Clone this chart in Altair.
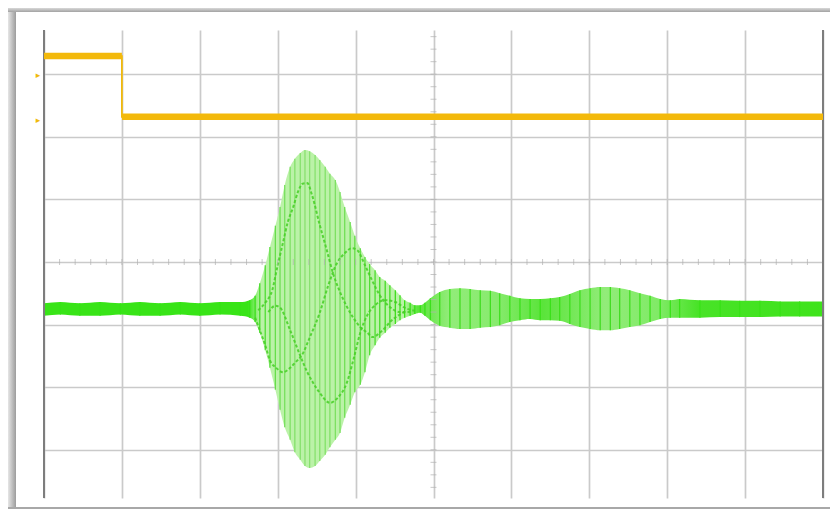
import altair as alt
import pandas as pd

# ---- Channel 2 (green) envelope, time in divisions, amplitude in divisions ----
t_env = [0.00, 0.21, 0.46, 0.72, 0.98, 1.23, 1.49, 1.75, 2.00, 2.26, 2.52, 2.64,
         2.71, 2.77, 2.84, 2.90, 2.97, 3.03, 3.09, 3.16, 3.22, 3.29, 3.35, 3.41,
         3.48, 3.54, 3.61, 3.67, 3.74, 3.80, 3.86, 3.93, 3.99, 4.06, 4.12, 4.18,
         4.25, 4.31, 4.38, 4.44, 4.51, 4.57, 4.63, 4.70, 4.76, 4.83, 4.89, 4.96,
         5.08, 5.21, 5.34, 5.47, 5.60, 5.73, 5.85, 5.98, 6.11, 6.24, 6.37, 6.50,
         6.62, 6.75, 6.88, 7.01, 7.14, 7.27, 7.39, 7.52, 7.65, 7.78, 7.91, 8.04,
         8.16, 8.42, 8.68, 8.93, 9.19, 9.45, 9.70, 10.00]
env_hi = [-0.66, -0.64, -0.66, -0.64, -0.66, -0.64, -0.66, -0.64, -0.66, -0.64, -0.64, -0.61,
          -0.54, -0.34, -0.05, 0.24, 0.58, 0.88, 1.23, 1.52, 1.65, 1.74, 1.79, 1.77,
          1.71, 1.63, 1.52, 1.41, 1.31, 1.12, 0.88, 0.64, 0.42, 0.22, 0.08, -0.03,
          -0.13, -0.24, -0.30, -0.37, -0.45, -0.53, -0.61, -0.65, -0.69, -0.69, -0.65, -0.58,
          -0.48, -0.43, -0.42, -0.43, -0.45, -0.46, -0.50, -0.54, -0.58, -0.59, -0.59, -0.58,
          -0.56, -0.51, -0.45, -0.42, -0.40, -0.40, -0.42, -0.45, -0.50, -0.54, -0.59, -0.61,
          -0.59, -0.61, -0.61, -0.62, -0.62, -0.63, -0.63, -0.63]
env_lo = [-0.86, -0.84, -0.86, -0.86, -0.84, -0.86, -0.86, -0.84, -0.86, -0.84, -0.86, -0.89,
          -0.96, -1.13, -1.41, -1.69, -2.04, -2.36, -2.64, -2.84, -3.04, -3.16, -3.26, -3.29,
          -3.26, -3.18, -3.08, -2.96, -2.84, -2.73, -2.49, -2.28, -2.08, -1.96, -1.76, -1.49,
          -1.33, -1.21, -1.13, -1.05, -0.99, -0.93, -0.89, -0.86, -0.83, -0.81, -0.86, -0.93,
          -1.02, -1.05, -1.07, -1.07, -1.05, -1.04, -1.01, -0.96, -0.93, -0.91, -0.93, -0.93,
          -0.94, -0.99, -1.04, -1.07, -1.09, -1.09, -1.07, -1.04, -1.01, -0.96, -0.91, -0.89,
          -0.89, -0.89, -0.88, -0.88, -0.88, -0.87, -0.87, -0.87]

# ---- aliasing curves visible inside the burst ----
c1_t = [2.75, 2.84, 2.93, 3.00, 3.07, 3.13, 3.20, 3.26, 3.32, 3.38, 3.44, 3.54, 3.63,
        3.71, 3.80, 3.89, 3.97, 4.06, 4.15, 4.22, 4.31, 4.38, 4.44, 4.54, 4.63]
c1_v = [-0.77, -0.65, -0.45, -0.05, 0.32, 0.64, 0.88, 1.12, 1.25, 1.26, 1.07, 0.59, 0.19,
        -0.18, -0.48, -0.72, -0.89, -1.04, -1.13, -1.20, -1.13, -1.05, -0.96, -0.86, -0.80]
c2_t = [2.71, 2.77, 2.84, 2.90, 2.98, 3.07, 3.16, 3.23, 3.31, 3.41, 3.54, 3.65, 3.76,
        3.86, 3.95, 4.02, 4.12, 4.21, 4.31, 4.44, 4.57, 4.70]
c2_v = [-0.89, -1.09, -1.33, -1.57, -1.69, -1.76, -1.69, -1.60, -1.49, -1.21, -0.81, -0.37, -0.02,
        0.14, 0.22, 0.19, -0.05, -0.29, -0.53, -0.72, -0.80, -0.80]
c3_t = [2.88, 2.97, 3.03, 3.16, 3.29, 3.38, 3.45, 3.54, 3.67, 3.77, 3.89, 3.97, 4.06,
        4.15, 4.25, 4.38, 4.51, 4.63, 4.76]
c3_v = [-0.80, -0.70, -0.73, -1.09, -1.50, -1.76, -1.92, -2.09, -2.25, -2.17, -1.92, -1.57, -1.13,
        -0.85, -0.69, -0.61, -0.64, -0.73, -0.78]

# ---- Channel 1 (yellow) step ----
ch1_start = [0.0, 1.0]
ch1_end = [1.0, 10.0]
ch1_level = [3.29, 2.32]
ch1_edge_t = [0.0, 1.0, 1.0, 10.0]
ch1_edge_v = [3.29, 3.29, 2.32, 2.32]

# ---- channel markers on the left ----
marker_v = [2.99, 2.27]
marker_txt = ["\u25b8", "\u25b8"]

# graticule
x_div = list(range(11))
y_div = list(range(-3, 4))
minor_x = [i * 0.2 for i in range(51)]
minor_y = [-3.6 + i * 0.2 for i in range(37)]

W, H = 779, 468
xs = alt.Scale(domain=[0, 10], nice=False, zero=False)
ys = alt.Scale(domain=[-3.77, 3.706], nice=False, zero=False)

env = pd.DataFrame({"t": t_env, "hi": env_hi, "lo": env_lo})
curves = pd.concat([
    pd.DataFrame({"t": c1_t, "v": c1_v, "c": "a"}),
    pd.DataFrame({"t": c2_t, "v": c2_v, "c": "b"}),
    pd.DataFrame({"t": c3_t, "v": c3_v, "c": "c"}),
])
ch1_seg = pd.DataFrame({"t0": ch1_start, "t1": ch1_end, "v": ch1_level})
ch1_line = pd.DataFrame({"t": ch1_edge_t, "v": ch1_edge_v})
mark_df = pd.DataFrame({"v": marker_v, "s": marker_txt})
one = pd.DataFrame({"a": [0]})

xax = alt.Axis(values=x_div, grid=True, gridColor="#cacaca", gridWidth=1.7,
               labels=False, ticks=False, domain=False, title=None)
yax = alt.Axis(values=y_div, grid=True, gridColor="#cacaca", gridWidth=1.7,
               labels=False, ticks=False, domain=False, title=None)

X = lambda f: alt.X(f, scale=xs, axis=xax)
Y = lambda f: alt.Y(f, scale=ys, axis=yax)

stops = [
    alt.GradientStop(offset=0.0, color="#38e417"),
    alt.GradientStop(offset=0.262, color="#38e417"),
    alt.GradientStop(offset=0.278, color="#bbf2a8"),
    alt.GradientStop(offset=0.462, color="#bbf2a8"),
    alt.GradientStop(offset=0.48, color="#5ae43a"),
    alt.GradientStop(offset=0.52, color="#92ec79"),
    alt.GradientStop(offset=0.58, color="#88eb6e"),
    alt.GradientStop(offset=0.64, color="#5ae43a"),
    alt.GradientStop(offset=0.72, color="#92ec79"),
    alt.GradientStop(offset=0.79, color="#80ea66"),
    alt.GradientStop(offset=0.84, color="#48e327"),
    alt.GradientStop(offset=1.0, color="#3ee31b"),
]

area = alt.Chart(env).mark_area(
    color=alt.Gradient(gradient="linear", stops=stops, x1=0, x2=1, y1=0, y2=0),
    interpolate="monotone",
).encode(x=X("t:Q"), y=Y("hi:Q"), y2="lo:Q")

rules = alt.Chart(env).transform_calculate(amp="datum.hi - datum.lo").mark_rule(
    strokeWidth=1.3
).encode(
    x=X("t:Q"), y=Y("hi:Q"), y2="lo:Q",
    color=alt.Color("amp:Q", scale=alt.Scale(domain=[0.2, 0.7, 5],
                                            range=["#36e315", "#42dc22", "#88e16f"]),
                    legend=None),
)

inner = alt.Chart(curves).mark_line(
    strokeDash=[3, 2], strokeWidth=2, color="#45cf24", opacity=0.85, interpolate="monotone"
).encode(x=X("t:Q"), y=Y("v:Q"), detail="c:N")

tick_x = alt.Chart(pd.DataFrame({"t": minor_x})).mark_tick(
    orient="vertical", size=6, thickness=1, color="#b0b0b0"
).encode(x=X("t:Q"), y=alt.datum(0, scale=ys, axis=yax))

tick_y = alt.Chart(pd.DataFrame({"v": minor_y})).mark_tick(
    orient="horizontal", size=6, thickness=1, color="#b0b0b0"
).encode(y=Y("v:Q"), x=alt.datum(5, scale=xs, axis=xax))

border = alt.Chart(pd.DataFrame({"t": [0, 10]})).mark_rule(
    color="#7d7d7d", strokeWidth=2
).encode(x=X("t:Q"))

ch1_thin = alt.Chart(ch1_line).mark_line(color="#f0b90c", strokeWidth=1.8).encode(
    x=X("t:Q"), y=Y("v:Q"), order="t:Q",
)
ch1_thick = alt.Chart(ch1_seg).mark_rule(color="#f3b90b", strokeWidth=6.5, strokeCap="butt").encode(
    x=X("t0:Q"), x2="t1:Q", y=Y("v:Q"),
)

markers = alt.Chart(mark_df).mark_text(
    color="#f0b90c", fontSize=9, align="center", baseline="middle", font="DejaVu Sans"
).encode(x=alt.value(-6), y=Y("v:Q"), text="s:N")

frame_left = alt.Chart(one).mark_rect(
    color=alt.Gradient(gradient="linear", x1=0, x2=1, y1=0, y2=0,
                       stops=[alt.GradientStop(offset=0, color="#e6e6e6"),
                              alt.GradientStop(offset=1, color="#9c9c9c")])
).encode(x=alt.value(-36), x2=alt.value(-28), y=alt.value(-22), y2=alt.value(479))

frame_top = alt.Chart(one).mark_rect(
    color=alt.Gradient(gradient="linear", x1=0, x2=0, y1=0, y2=1,
                       stops=[alt.GradientStop(offset=0, color="#d8d8d8"),
                              alt.GradientStop(offset=1, color="#a2a2a2")])
).encode(x=alt.value(-36), x2=alt.value(786), y=alt.value(-22), y2=alt.value(-18))

frame_bottom = alt.Chart(one).mark_rect(color="#a8a8a8").encode(
    x=alt.value(-36), x2=alt.value(786), y=alt.value(477), y2=alt.value(479)
)

chart = alt.layer(
    area, rules, inner, tick_x, tick_y, border, ch1_thin, ch1_thick, markers,
    frame_left, frame_top, frame_bottom,
).properties(
    width=W, height=H,
    autosize=alt.AutoSizeParams(type="none"),
    padding={"left": 36, "top": 22, "right": 7, "bottom": 11},
    background="#ffffff",
).configure_view(stroke=None)

chart.save("out.html", embed_options={"renderer": "svg", "actions": False})
